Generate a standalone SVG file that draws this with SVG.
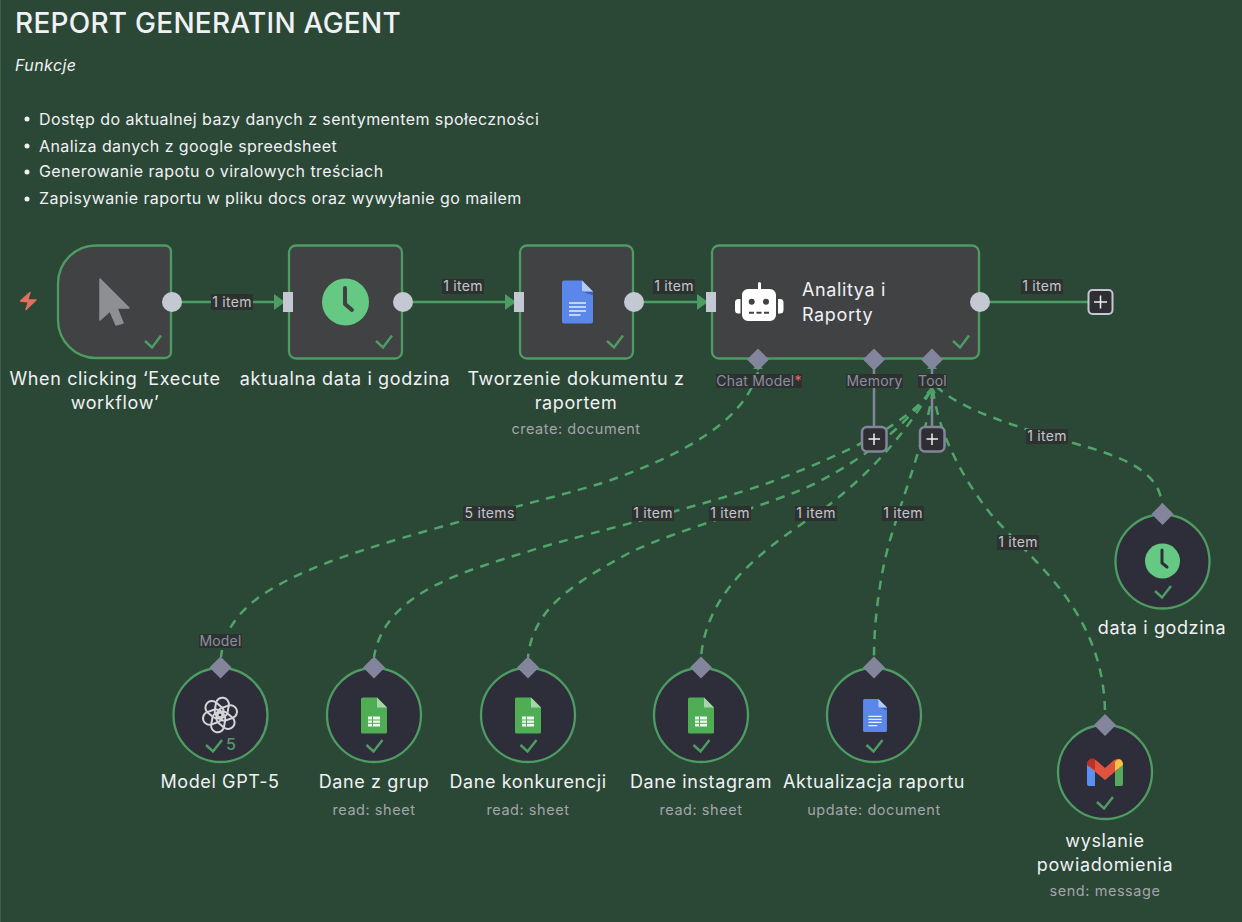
<svg xmlns="http://www.w3.org/2000/svg" width="1242" height="922" viewBox="0 0 1242 922">
<style>
text{font-family:Inter,"Noto Sans","Liberation Sans",sans-serif}
.note{fill:#f0f1f5;font-size:16px;letter-spacing:.42px}
.nm{fill:#f0f1f5;font-size:18px;text-anchor:middle;letter-spacing:.62px}
.nl{fill:#f0f1f5;font-size:18px;letter-spacing:.62px}
.sub{fill:#a3a5ab;font-size:14.500px;text-anchor:middle;letter-spacing:.55px}
.box{fill:#414244;stroke:#4d9c62;stroke-width:2.300}
.circ{fill:#2e2e3a;stroke:#4d9c62;stroke-width:2.300}
.pin{fill:#c4c8d3}
.dia{fill:#83859c}
.chk{fill:none;stroke:#4d9c62;stroke-width:2.500}
.sol{fill:none;stroke:#4d9c62;stroke-width:2.500}
.dash{fill:none;stroke:#4fa56c;stroke-width:2.500;stroke-dasharray:9 7.500}
.gr{fill:none;stroke:#83859c;stroke-width:2.500}
.lb{fill:#2d3231}
.lt{fill:#c4c6cc;font-size:14px;text-anchor:middle;letter-spacing:.3px}
.pl{fill:#8c8e9f;font-size:14px;text-anchor:middle;letter-spacing:.2px}
.add{fill:#2f2f33;stroke:#c4c8d3;stroke-width:2}
.add2{fill:#2f2f33;stroke:#83859c;stroke-width:2.500}
.plus{stroke:#f0f1f5;stroke-width:1.500;fill:none}
</style>
<defs>
<g id="doc"><path d="M-15.500-21.500H4.500L15.500-10.500V19.500a2 2 0 0 1-2 2H-13.500a2 2 0 0 1-2-2V-19.500a2 2 0 0 1 2-2Z" fill="#5b87ea"/><path d="M4.500-10.500L15.500-10.500L15.500-6.500Z" fill="#3f62b8"/><path d="M4.500-21.500L15.500-10.500H6.500a2 2 0 0 1-2-2Z" fill="#b3cbf6"/><path d="M-8.500 1H8.500M-8.500 5H8.500M-8.500 9H8.500M-8.500 13H3" stroke="#e8eefc" stroke-width="1.600"/></g>
<g id="sheet"><path d="M-13-18H3L13-8V16.500a1.500 1.500 0 0 1-1.500 1.500H-11.500A1.500 1.500 0 0 1-13 16.500V-16.500A1.500 1.500 0 0 1-11.500-18Z" fill="#4fae54"/><path d="M3-18L13-8H3Z" fill="#a5d6a7"/><rect x="-6" y="1" width="12" height="10" fill="#f1f8f1"/><path d="M-6 4.500H6M-6 7.800H6M-1.500 1V11" stroke="#4fae54" stroke-width="1"/></g>
</defs>
<rect width="1242" height="922" fill="#2b4735"/>
<rect x="0" y="0" width="1" height="922" fill="#3d5f49"/>
<g id="note">
<text x="15" y="33" fill="#f0f1f5" font-size="28" font-weight="500" letter-spacing=".25">REPORT GENERATIN AGENT</text>
<text x="15" y="71" class="note" font-style="italic">Funkcje</text>
<circle cx="27" cy="119" r="2.500" fill="#f0f1f5"/><text x="39" y="124.500" class="note">Dostęp do aktualnej bazy danych z sentymentem społeczności</text>
<circle cx="27" cy="146" r="2.500" fill="#f0f1f5"/><text x="39" y="151.500" class="note">Analiza danych z google spreedsheet</text>
<circle cx="27" cy="172" r="2.500" fill="#f0f1f5"/><text x="39" y="176.500" class="note">Generowanie rapotu o viralowych treściach</text>
<circle cx="27" cy="199" r="2.500" fill="#f0f1f5"/><text x="39" y="203.500" class="note">Zapisywanie raportu w pliku docs oraz wywyłanie go mailem</text>
</g>
<g id="connectors">
<path class="sol" d="M181 302H278M412 302H509M643 302H701M989 302H1088"/>
<path d="M274 294L285 302L274 310Z M505 294L516 302L505 310Z M697 294L708 302L697 310Z" fill="#4d9c62"/>
<path class="gr" d="M874 368V427M932 368V427"/>
<path class="dash" d="M758 372C745 415 700 448 611 480C570 495 420 528 329 562C270 585 226 610 221 657"/>
<path class="dash" d="M930 392C905 425 850 452 771 482C700 507 600 530 539 548C470 570 385 590 374 657"/>
<path class="dash" d="M930 392C905 425 870 455 818 482C770 506 680 528 629 553C570 585 533 610 528 657"/>
<path class="dash" d="M930 392C910 425 880 465 829 505C780 540 708 580 701 657"/>
<path class="dash" d="M933 390C925 440 905 490 890 540C880 575 874 620 874 657"/>
<path class="dash" d="M933 390C938 430 960 475 990 513C1030 560 1105 610 1105 715"/>
<path class="dash" d="M936 386C960 410 1020 428 1073 443C1120 456 1160 470 1162 505"/>
<path d="M753 369L758 363L763 369Z M927 369L932 363L937 369Z M926 393L932 386L936 393Z" fill="#4d9c62"/>
<g>
<rect class="lb" x="211" y="294" width="42" height="16"/><text class="lt" x="232" y="307">1 item</text>
<rect class="lb" x="442" y="279" width="42" height="15"/><text class="lt" x="463" y="291">1 item</text>
<rect class="lb" x="653" y="279" width="42" height="15"/><text class="lt" x="674" y="291">1 item</text>
<rect class="lb" x="1021" y="279" width="42" height="15"/><text class="lt" x="1042" y="291">1 item</text>
<rect class="lb" x="1026" y="429" width="42" height="15"/><text class="lt" x="1047" y="441">1 item</text>
<rect class="lb" x="463" y="506" width="53" height="15"/><text class="lt" x="489.500" y="518">5 items</text>
<rect class="lb" x="632" y="506" width="42" height="15"/><text class="lt" x="653" y="518">1 item</text>
<rect class="lb" x="709" y="506" width="42" height="15"/><text class="lt" x="730" y="518">1 item</text>
<rect class="lb" x="795" y="506" width="42" height="15"/><text class="lt" x="816" y="518">1 item</text>
<rect class="lb" x="882" y="506" width="42" height="15"/><text class="lt" x="903" y="518">1 item</text>
<rect class="lb" x="997" y="535" width="42" height="15"/><text class="lt" x="1018" y="547">1 item</text>
</g>
</g>
<g id="trigger">
<path d="M20.500 301L30 292.500L27.500 300H36L26 309.500L28.500 302Z" fill="#e0705c" stroke="#e0705c" stroke-width="1.500" stroke-linejoin="round"/>
<path class="box" d="M96 245.500H165a6 6 0 0 1 6 6V352a6 6 0 0 1-6 6H96A38 38 0 0 1 58 320V283.500A38 38 0 0 1 96 245.500Z"/>
<path d="M100 279L129 308H117L123 323L116 325L110 311L100 320Z" fill="#8e8f93" stroke="#8e8f93" stroke-width="1.500" stroke-linejoin="round"/>
<path class="chk" d="M145 341L152 347.500L161 335.500"/>
<circle class="pin" cx="172" cy="302" r="10"/>
<text class="nm" x="115" y="385">When clicking ‘Execute</text><text class="nm" x="115" y="409">workflow’</text>
</g>
<g id="aktualna">
<rect class="box" x="289" y="245.500" width="113" height="113" rx="7"/>
<circle cx="345.500" cy="302" r="23.500" fill="#65c983"/>
<path d="M345 288V304L352 310" fill="none" stroke="#3f4042" stroke-width="4" stroke-linecap="round" stroke-linejoin="round"/>
<path class="chk" d="M376 341L383 347.500L392 335.500"/>
<rect class="pin" x="283" y="292" width="10" height="20"/>
<circle class="pin" cx="403" cy="302" r="10"/>
<text class="nm" x="345" y="385">aktualna data i godzina</text>
</g>
<g id="tworzenie">
<rect class="box" x="520" y="245.500" width="113" height="113" rx="7"/>
<use href="#doc" x="577.500" y="302"/>
<path class="chk" d="M607 341L614 347.500L623 335.500"/>
<rect class="pin" x="514" y="292" width="10" height="20"/>
<circle class="pin" cx="634" cy="302" r="10"/>
<text class="nm" x="576" y="385">Tworzenie dokumentu z</text><text class="nm" x="576" y="409">raportem</text>
<text class="sub" x="576" y="434">create: document</text>
</g>
<g id="agent">
<rect class="box" x="712" y="245.500" width="267" height="113" rx="7"/>
<path d="M758 283.500a1.500 1.500 0 0 1 3 0V289H770a6 6 0 0 1 6 6V315a6 6 0 0 1-6 6H748a6 6 0 0 1-6-6V295a6 6 0 0 1 6-6H758Z M740.500 299V313.500H738.500a3.500 3.500 0 0 1-3.500-3.500V302.500a3.500 3.500 0 0 1 3.500-3.500Z M778 299V313.500H780a3.500 3.500 0 0 0 3.500-3.500V302.500a3.500 3.500 0 0 0-3.500-3.500Z" fill="#fff"/>
<circle cx="751.700" cy="301.700" r="3" fill="#414244"/><circle cx="766" cy="301.700" r="3" fill="#414244"/>
<path d="M749 312.700H769" stroke="#414244" stroke-width="2" stroke-dasharray="5 2.500"/>
<text x="802" y="296" class="nl">Analitya i</text><text x="802" y="321" class="nl">Raporty</text>
<path class="chk" d="M953 341L960 347.500L969 335.500"/>
<rect class="pin" x="706" y="292" width="10" height="20"/>
<circle class="pin" cx="980" cy="302" r="10"/>
<path class="dia" d="M758 348.500L769 359.500L758 370.500L747 359.500Z M874 348.500L885 359.500L874 370.500L863 359.500Z M932 348.500L943 359.500L932 370.500L921 359.500Z"/>
<rect class="lb" x="716" y="374" width="86" height="14"/><text class="pl" x="759" y="386">Chat Model<tspan fill="#f1636a">*</tspan></text>
<rect class="lb" x="846" y="374" width="57" height="14"/><text class="pl" x="874.500" y="386">Memory</text>
<rect class="lb" x="918" y="374" width="29" height="14"/><text class="pl" x="932.500" y="386">Tool</text>
</g>
<g id="add-output"><rect class="add" x="1088.500" y="290" width="24" height="24" rx="4"/><path class="plus" d="M1094 302H1107M1100.500 295.500V308.500"/></g>
<g id="add-memory"><rect class="add2" x="862" y="427" width="24.500" height="24.500" rx="5"/><path class="plus" d="M868.500 439H880M874 433.500V445"/></g>
<g id="add-tool"><rect class="add2" x="920" y="427" width="24.500" height="24.500" rx="5"/><path class="plus" d="M926.500 439H938M932 433.500V445"/></g>
<g id="model">
<circle class="circ" cx="220.500" cy="715" r="47"/>
<g fill="none" stroke="#d4d5da" stroke-width="2" transform="translate(220 715)">
<rect id="pt" x="-6" y="-17.500" width="13" height="20" rx="6.500" transform="rotate(10)"/>
<rect x="-6" y="-17.500" width="13" height="20" rx="6.500" transform="rotate(70)"/>
<rect x="-6" y="-17.500" width="13" height="20" rx="6.500" transform="rotate(130)"/>
<rect x="-6" y="-17.500" width="13" height="20" rx="6.500" transform="rotate(190)"/>
<rect x="-6" y="-17.500" width="13" height="20" rx="6.500" transform="rotate(250)"/>
<rect x="-6" y="-17.500" width="13" height="20" rx="6.500" transform="rotate(310)"/>
</g>
<path class="chk" d="M206 745L213 751.500L222 740"/><text x="226" y="750" fill="#4d9c62" font-size="16" font-weight="500">5</text>
<path class="dia" d="M220.500 656.500L231.500 667.500L220.500 678.500L209.500 667.500Z"/>
<rect class="lb" x="199" y="634" width="43" height="14"/><text class="pl" x="220.500" y="645.500">Model</text>
<text class="nm" x="220" y="788">Model GPT-5</text>
</g>
<g id="dane-grup">
<circle class="circ" cx="374" cy="715" r="47"/><use href="#sheet" x="374" y="715.500"/>
<path class="chk" d="M366.500 745L373.500 751.500L382.500 740"/>
<path class="dia" d="M374 656.500L385 667.500L374 678.500L363 667.500Z"/>
<text class="nm" x="374" y="788">Dane z grup</text><text class="sub" x="374" y="815">read: sheet</text>
</g>
<g id="dane-konkurencji">
<circle class="circ" cx="528" cy="715" r="47"/><use href="#sheet" x="528" y="715.500"/>
<path class="chk" d="M520.500 745L527.500 751.500L536.500 740"/>
<path class="dia" d="M528 656.500L539 667.500L528 678.500L517 667.500Z"/>
<text class="nm" x="528" y="788">Dane konkurencji</text><text class="sub" x="528" y="815">read: sheet</text>
</g>
<g id="dane-instagram">
<circle class="circ" cx="701" cy="715" r="47"/><use href="#sheet" x="701" y="715.500"/>
<path class="chk" d="M693.500 745L700.500 751.500L709.500 740"/>
<path class="dia" d="M701 656.500L712 667.500L701 678.500L690 667.500Z"/>
<text class="nm" x="701" y="788">Dane instagram</text><text class="sub" x="701" y="815">read: sheet</text>
</g>
<g id="aktualizacja">
<circle class="circ" cx="874" cy="715" r="47"/><use href="#doc" transform="translate(875 715.500) scale(.77)"/>
<path class="chk" d="M866.500 745L873.500 751.500L882.500 740"/>
<path class="dia" d="M874 656.500L885 667.500L874 678.500L863 667.500Z"/>
<text class="nm" x="874" y="788">Aktualizacja raportu</text><text class="sub" x="874" y="815">update: document</text>
</g>
<g id="gmail">
<circle class="circ" cx="1105" cy="772" r="47"/>
<path d="M1087 763V784a2 2 0 0 0 2 2H1095V769Z" fill="#5b8ff0"/>
<path d="M1123 763V784a2 2 0 0 1-2 2H1115V769Z" fill="#56a85c"/>
<path d="M1087 765C1087 759 1093 757 1097 761L1105 768L1113 761C1117 757 1123 759 1123 765L1105 780Z" fill="#e05242"/>
<path d="M1087 765C1087 759 1093 757 1095 760V770Z" fill="#b83228"/>
<path d="M1115 762C1118 757 1123 759 1123 765L1115 771Z" fill="#f5c242"/>
<path class="chk" d="M1097 802L1104 808.500L1113 797"/>
<path class="dia" d="M1105 714L1116 725L1105 736L1094 725Z"/>
<text class="nm" x="1105" y="847">wyslanie</text><text class="nm" x="1105" y="871">powiadomienia</text><text class="sub" x="1105" y="896">send: message</text>
</g>
<g id="data-godzina">
<circle class="circ" cx="1162.500" cy="561.500" r="47"/>
<circle cx="1162.500" cy="561" r="17.500" fill="#65c983"/>
<path d="M1162 550V563L1167 567" fill="none" stroke="#2e2e3a" stroke-width="3" stroke-linecap="round" stroke-linejoin="round"/>
<path class="chk" d="M1155 591L1162 597.500L1171 586"/>
<path class="dia" d="M1162.500 503L1173.500 514L1162.500 525L1151.500 514Z"/>
<text class="nm" x="1162" y="634">data i godzina</text>
</g>
</svg>
